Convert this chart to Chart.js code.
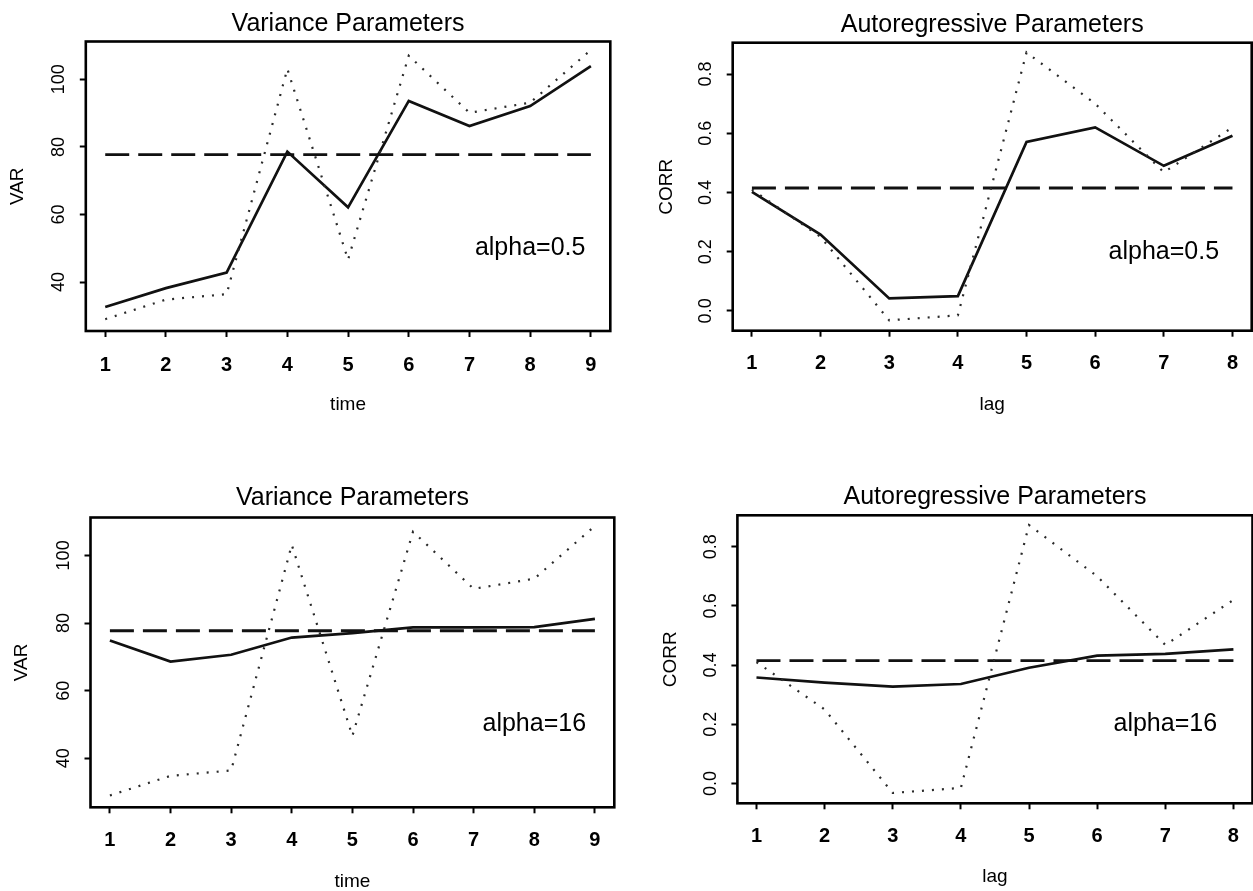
<!DOCTYPE html>
<html>
<head>
<meta charset="utf-8">
<title>Variance and Autoregressive Parameters</title>
<script src="https://cdn.jsdelivr.net/npm/chart.js@4.4.1/dist/chart.umd.min.js"></script>
<style>
  html, body { margin: 0; padding: 0; background: #fff; }
  body { width: 1253px; height: 891px; position: relative; overflow: hidden; }
  canvas { position: absolute; }
</style>
</head>
<body>
<canvas id="varTop"  width="626" height="445" style="left:0px;top:0px;width:626px;height:445px"></canvas>
<canvas id="corrTop" width="627" height="445" style="left:626px;top:0px;width:627px;height:445px"></canvas>
<canvas id="varBot"  width="626" height="446" style="left:0px;top:445px;width:626px;height:446px"></canvas>
<canvas id="corrBot" width="627" height="446" style="left:626px;top:445px;width:627px;height:446px"></canvas>
<script>
// ---- data ----
const timePoints = [1, 2, 3, 4, 5, 6, 7, 8, 9];
const lagPoints  = [1, 2, 3, 4, 5, 6, 7, 8];

// per-time variance: unsmoothed estimates, smoothed fits, stationary level
const varEstimates = [29.0, 34.8, 36.4, 103.1, 46.6, 107.0, 90.1, 93.1, 108.7];
const varAlpha05   = [32.6, 38.2, 42.8, 78.6, 62.1, 93.6, 86.2, 92.1, 103.9];
const varAlpha16   = [74.8, 68.6, 70.6, 75.7, 77.0, 78.7, 78.7, 78.8, 81.2];
const varStationary = 77.7;

// lag correlations: unsmoothed estimates, smoothed fits, stationary level
const corrEstimates = [0.41, 0.25, -0.032, -0.015, 0.873, 0.70, 0.468, 0.62];
const corrAlpha05   = [0.402, 0.258, 0.042, 0.050, 0.571, 0.620, 0.490, 0.592];
const corrAlpha16   = [0.358, 0.341, 0.327, 0.336, 0.391, 0.432, 0.438, 0.453];
const corrStationary = 0.415;

// axis ticks
const varTicks = [40, 60, 80, 100];
const varTickLabels = ['40', '60', '80', '100'];
const corrTicks = [0.0, 0.2, 0.4, 0.6, 0.8];
const corrTickLabels = ['0.0', '0.2', '0.4', '0.6', '0.8'];

// ---- shared look ----
const FAMILY = "'Liberation Sans', Arial, Helvetica, sans-serif";
Chart.defaults.font.family = FAMILY;
Chart.defaults.color = '#000';

const INK = '#111';
const TICK_LEN = 6;
const YLABEL_SIZE = 18;
const YLABEL_DIST = 26.4;   // from frame edge to centre of rotated y labels

function textWidth(labels, size) {
  const c = document.createElement('canvas').getContext('2d');
  c.font = `normal ${size}px ${FAMILY}`;
  return Math.max(...labels.map(s => c.measureText(s).width));
}

// closed box around the plotting region
const framePlugin = {
  id: 'frame',
  afterDatasetsDraw(chart) {
    const { ctx, chartArea: a } = chart;
    ctx.save();
    ctx.strokeStyle = '#000';
    ctx.lineWidth = 2.6;
    ctx.strokeRect(a.left, a.top, a.right - a.left, a.bottom - a.top);
    ctx.restore();
  }
};

// annotation placed at data coordinates
const notePlugin = {
  id: 'note',
  afterDatasetsDraw(chart, args, opts) {
    if (!opts || !opts.text) return;
    const { ctx } = chart;
    const px = chart.scales.x.getPixelForValue(opts.x);
    const py = chart.scales.y.getPixelForValue(opts.y);
    ctx.save();
    ctx.font = `normal ${opts.size}px ${FAMILY}`;
    ctx.fillStyle = '#000';
    ctx.textAlign = 'center';
    ctx.textBaseline = 'middle';
    ctx.fillText(opts.text, px, py);
    ctx.restore();
  }
};

function panel(id, spec, box) {
  const canvas = document.getElementById(id);
  const W = canvas.width, H = canvas.height;
  const titleSize = 25, titleLH = 30;
  const axisTitleSize = 19;
  const xTickSize = 20, xTickLH = xTickSize * 1.2;
  const widest = textWidth(spec.yLabels, YLABEL_SIZE);
  const yPad = YLABEL_DIST - TICK_LEN - widest / 2;

  const pts = vals => spec.xs.map((x, i) => ({ x, y: vals[i] }));
  const flat = spec.xs.map(x => ({ x, y: spec.level }));

  return new Chart(canvas, {
    type: 'line',
    data: {
      datasets: [
        { label: 'estimates', data: pts(spec.raw), borderColor: '#2a2a2a', borderWidth: 2.2,
          borderDash: [2, 8], pointRadius: 0, tension: 0, fill: false },
        { label: 'stationary', data: flat, borderColor: INK, borderWidth: 2.9,
          borderDash: [24, 9], pointRadius: 0, tension: 0, fill: false },
        { label: 'smoothed', data: pts(spec.fit), borderColor: INK, borderWidth: 2.7,
          pointRadius: 0, tension: 0, fill: false }
      ]
    },
    options: {
      responsive: false,
      animation: false,
      devicePixelRatio: 1,
      events: [],
      layout: { padding: { left: 0, top: 0, bottom: 0, right: W - box.right } },
      plugins: {
        legend: { display: false },
        tooltip: { enabled: false },
        title: {
          display: true, text: spec.title, fullSize: false,
          font: { size: titleSize, weight: 'normal', lineHeight: titleLH / titleSize },
          padding: { top: box.titleY - titleLH / 2, bottom: box.top - (box.titleY - titleLH / 2) - titleLH }
        },
        note: { text: spec.note, x: spec.noteAt[0], y: spec.noteAt[1], size: 25 }
      },
      scales: {
        x: {
          type: 'linear', position: 'bottom',
          min: spec.xRange[0], max: spec.xRange[1],
          afterBuildTicks: s => { s.ticks = spec.xs.map(v => ({ value: v })); },
          afterFit: s => { s.height = H - box.bottom; s.paddingLeft = 0; s.paddingRight = 0; },
          grid: { display: true, drawOnChartArea: false, drawTicks: true, tickLength: TICK_LEN,
                  tickColor: '#000', tickWidth: 2 },
          border: { display: false },
          ticks: {
            autoSkip: false, maxRotation: 0, minRotation: 0,
            padding: box.tickLabelY - box.bottom - TICK_LEN - xTickLH / 2,
            font: { size: xTickSize, weight: 'bold', lineHeight: 1.2 },
            callback: v => String(v)
          },
          title: {
            display: true, text: spec.xTitle,
            font: { size: axisTitleSize, lineHeight: 1 },
            padding: { top: 0, bottom: H - box.xTitleY - axisTitleSize / 2 }
          }
        },
        y: {
          type: 'linear', position: 'left',
          min: spec.yRange[0], max: spec.yRange[1],
          afterBuildTicks: s => { s.ticks = spec.yTicks.map(v => ({ value: v })); },
          afterFit: s => { s.width = box.left; s.paddingTop = 0; s.paddingBottom = 0; },
          grid: { display: true, drawOnChartArea: false, drawTicks: true, tickLength: TICK_LEN,
                  tickColor: '#000', tickWidth: 2 },
          border: { display: false },
          ticks: {
            minRotation: 90, maxRotation: 90, crossAlign: 'center',
            padding: yPad,
            font: { size: YLABEL_SIZE, weight: 'normal' },
            callback: v => spec.yLabels[spec.yTicks.indexOf(v)]
          },
          title: {
            display: true, text: spec.yTitle,
            font: { size: axisTitleSize, lineHeight: 1 },
            padding: { top: box.yTitleX - axisTitleSize / 2, bottom: 0 }
          }
        }
      }
    },
    plugins: [framePlugin, notePlugin]
  });
}

const varSpec = {
  title: 'Variance Parameters', xTitle: 'time', yTitle: 'VAR',
  xs: timePoints, raw: varEstimates, level: varStationary,
  xRange: [0.68, 9.32], yRange: [25.5, 111.2],
  yTicks: varTicks, yLabels: varTickLabels
};
const corrSpec = {
  title: 'Autoregressive Parameters', xTitle: 'lag', yTitle: 'CORR',
  xs: lagPoints, raw: corrEstimates, level: corrStationary,
  xRange: [0.72, 8.28], yRange: [-0.067, 0.906],
  yTicks: corrTicks, yLabels: corrTickLabels
};

panel('varTop', { ...varSpec, fit: varAlpha05, note: 'alpha=0.5', noteAt: [8, 50] },
  { left: 85.8, right: 610.3, top: 41.5, bottom: 331, titleY: 23.7, yTitleX: 17.8, tickLabelY: 365, xTitleY: 405 });
panel('corrTop', { ...corrSpec, fit: corrAlpha05, note: 'alpha=0.5', noteAt: [7, 0.2] },
  { left: 106.7, right: 625.7, top: 42.7, bottom: 330.7, titleY: 25, yTitleX: 40.6, tickLabelY: 363.3, xTitleY: 405 });
panel('varBot', { ...varSpec, fit: varAlpha16, note: 'alpha=16', noteAt: [8, 50] },
  { left: 90.5, right: 614.3, top: 72.5, bottom: 362.3, titleY: 53.3, yTitleX: 21.8, tickLabelY: 395, xTitleY: 436.7 });
panel('corrBot', { ...corrSpec, fit: corrAlpha16, note: 'alpha=16', noteAt: [7, 0.2] },
  { left: 111.4, right: 626.5, top: 70.3, bottom: 358.3, titleY: 51.7, yTitleX: 44.6, tickLabelY: 391.7, xTitleY: 431.7 });
</script>
</body>
</html>
